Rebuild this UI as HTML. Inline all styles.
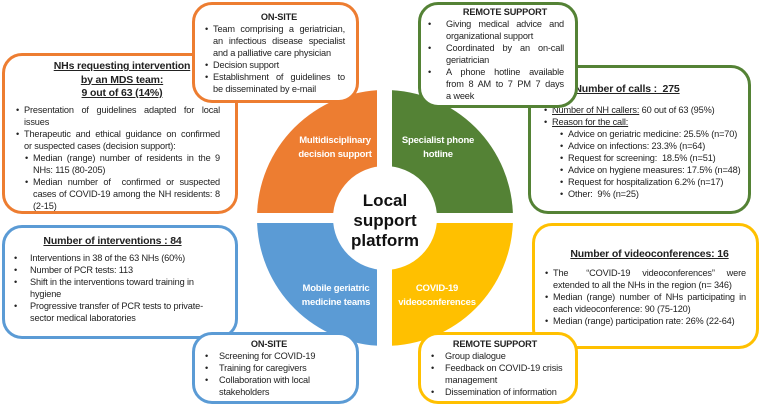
<!DOCTYPE html>
<html><head><meta charset="utf-8">
<style>
body{margin:0;width:761px;height:403px;position:relative;background:#fff;font-family:"Liberation Sans",sans-serif;overflow:hidden;color:#222}
.b{position:absolute;background:#fff;border:3px solid;border-radius:20px;box-sizing:border-box}
.t{position:absolute;font-size:9.2px;line-height:12px;white-space:nowrap;letter-spacing:-0.15px}
.l{position:relative;height:12px}
.j{text-align:justify;text-align-last:justify}
.h{font-weight:bold;text-align:center}
.u{text-decoration:underline}
.bu{position:absolute;left:-8px}
svg{position:absolute;left:0;top:0}
.ql{position:absolute;color:#fff;font-weight:bold;font-size:9.5px;line-height:14px;text-align:center;white-space:nowrap;letter-spacing:-0.2px}
</style></head><body>
<svg width="761" height="403">
<path d="M385,218 L257,218 A128,128 0 0 1 385,90 Z" fill="#ED7D31"/>
<path d="M385,218 L385,90 A128,128 0 0 1 513,218 Z" fill="#548235"/>
<path d="M385,218 L257,218 A128,128 0 0 0 385,346 Z" fill="#5B9BD5"/>
<path d="M385,218 L385,346 A128,128 0 0 0 513,218 Z" fill="#FFC000"/>
<rect x="377" y="80" width="15" height="280" fill="#fff"/>
<rect x="245" y="213" width="280" height="10" fill="#fff"/>
<circle cx="385" cy="218" r="52" fill="#fff"/>
<text x="385" y="206" font-family="Liberation Sans" font-weight="bold" font-size="17" text-anchor="middle" fill="#111">Local</text>
<text x="385" y="226" font-family="Liberation Sans" font-weight="bold" font-size="17" text-anchor="middle" fill="#111">support</text>
<text x="385" y="246" font-family="Liberation Sans" font-weight="bold" font-size="17" text-anchor="middle" fill="#111">platform</text>
</svg>
<div class="ql" style="left:287px;top:134px;width:96px">Multidisciplinary<br>decision support</div>
<div class="ql" style="left:393px;top:134px;width:90px">Specialist phone<br>hotline</div>
<div class="ql" style="left:288px;top:282px;width:96px">Mobile geriatric<br>medicine teams</div>
<div class="ql" style="left:392px;top:282px;width:90px">COVID-19<br>videoconferences</div>

<!-- orange NHs -->
<div class="b" style="left:2px;top:53px;width:236px;height:161px;border-color:#ED7D31"></div>
<div class="t" style="left:24px;top:60px;width:196px">
<div class="h u" style="font-size:10.5px;line-height:13.5px">NHs requesting intervention</div>
<div class="h u" style="font-size:10.5px;line-height:13.5px">by an MDS team:</div>
<div class="h u" style="font-size:10.5px;line-height:13.5px">9 out of 63 (14%)</div>
<div style="height:3px"></div>
<div class="l j"><span class="bu">•</span>Presentation of guidelines adapted for local</div>
<div class="l">issues</div>
<div class="l j"><span class="bu">•</span>Therapeutic and ethical guidance on confirmed</div>
<div class="l">or suspected cases (decision support):</div>
<div style="padding-left:9px">
<div class="l j"><span class="bu">•</span>Median (range) number of residents in the 9</div>
<div class="l">NHs: 115 (80-205)</div>
<div class="l j"><span class="bu">•</span>Median number of &nbsp;confirmed or suspected</div>
<div class="l j">cases of COVID-19 among the NH residents: 8</div>
<div class="l">(2-15)</div></div>
</div>

<!-- orange onsite -->
<div class="b" style="left:192px;top:2px;width:167px;height:101px;border-color:#ED7D31"></div>
<div class="t" style="left:213px;top:11px;width:132px">
<div class="l h">ON-SITE</div>
<div class="l j"><span class="bu">•</span>Team comprising a geriatrician,</div>
<div class="l j">an infectious disease specialist</div>
<div class="l">and a palliative care physician</div>
<div class="l"><span class="bu">•</span>Decision support</div>
<div class="l j"><span class="bu">•</span>Establishment of guidelines to</div>
<div class="l">be disseminated by e-mail</div>
</div>

<!-- green calls -->
<div class="b" style="left:528px;top:65px;width:223px;height:149px;border-color:#548235"></div>
<div class="t" style="left:552px;top:82px;width:195px">
<div class="h u" style="font-size:10.5px;line-height:14px;width:150px">Number of calls :&nbsp; 275</div>
<div style="height:8px"></div>
<div class="l"><span class="bu">•</span><span class="u">Number of NH callers:</span> 60 out of 63 (95%)</div>
<div class="l"><span class="bu">•</span><span class="u">Reason for the call:</span></div>
<div style="padding-left:16px">
<div class="l"><span class="bu">•</span>Advice on geriatric medicine: 25.5% (n=70)</div>
<div class="l"><span class="bu">•</span>Advice on infections: 23.3% (n=64)</div>
<div class="l"><span class="bu">•</span>Request for screening:&nbsp; 18.5% (n=51)</div>
<div class="l"><span class="bu">•</span>Advice on hygiene measures: 17.5% (n=48)</div>
<div class="l"><span class="bu">•</span>Request for hospitalization 6.2% (n=17)</div>
<div class="l"><span class="bu">•</span>Other:&nbsp; 9% (n=25)</div></div>
</div>

<!-- green remote -->
<div class="b" style="left:418px;top:2px;width:160px;height:106px;border-color:#548235"></div>
<div class="t" style="left:446px;top:6px;width:118px">
<div class="l h">REMOTE SUPPORT</div>
<div class="l j"><span class="bu" style="left:-18px">•</span>Giving medical advice and</div>
<div class="l">organizational support</div>
<div class="l j"><span class="bu" style="left:-18px">•</span>Coordinated by an on-call</div>
<div class="l">geriatrician</div>
<div class="l j"><span class="bu" style="left:-18px">•</span>A phone hotline available</div>
<div class="l j">from 8 AM to 7 PM 7 days</div>
<div class="l">a week</div>
</div>

<!-- blue interventions -->
<div class="b" style="left:2px;top:225px;width:236px;height:114px;border-color:#5B9BD5"></div>
<div class="t" style="left:30px;top:234px;width:200px">
<div class="h u" style="font-size:10.5px;line-height:14px;width:165px">Number of interventions : 84</div>
<div style="height:4px"></div>
<div class="l"><span class="bu" style="left:-16px">•</span>Interventions in 38 of the 63 NHs (60%)</div>
<div class="l"><span class="bu" style="left:-16px">•</span>Number of PCR tests: 113</div>
<div class="l"><span class="bu" style="left:-16px">•</span>Shift in the interventions toward training in</div>
<div class="l">hygiene</div>
<div class="l"><span class="bu" style="left:-16px">•</span>Progressive transfer of PCR tests to private-</div>
<div class="l">sector medical laboratories</div>
</div>

<!-- blue onsite -->
<div class="b" style="left:192px;top:332px;width:167px;height:72px;border-color:#5B9BD5"></div>
<div class="t" style="left:219px;top:338px;width:130px">
<div class="l h" style="width:100px">ON-SITE</div>
<div class="l"><span class="bu" style="left:-14px">•</span>Screening for COVID-19</div>
<div class="l"><span class="bu" style="left:-14px">•</span>Training for caregivers</div>
<div class="l"><span class="bu" style="left:-14px">•</span>Collaboration with local</div>
<div class="l">stakeholders</div>
</div>

<!-- yellow videoconf -->
<div class="b" style="left:532px;top:223px;width:227px;height:126px;border-color:#FFC000"></div>
<div class="t" style="left:553px;top:247px;width:193px">
<div class="h u" style="font-size:10.5px;line-height:14px">Number of videoconferences: 16</div>
<div style="height:6px"></div>
<div class="l j"><span class="bu">•</span>The &nbsp;&nbsp;“COVID-19 &nbsp;videoconferences” &nbsp;were</div>
<div class="l">extended to all the NHs in the region (n= 346)</div>
<div class="l j"><span class="bu">•</span>Median (range) number of NHs participating in</div>
<div class="l">each videoconference: 90 (75-120)</div>
<div class="l"><span class="bu">•</span>Median (range) participation rate: 26% (22-64)</div>
</div>

<!-- yellow remote -->
<div class="b" style="left:418px;top:332px;width:160px;height:72px;border-color:#FFC000"></div>
<div class="t" style="left:445px;top:338px;width:130px">
<div class="l h" style="width:100px">REMOTE SUPPORT</div>
<div class="l"><span class="bu" style="left:-14px">•</span>Group dialogue</div>
<div class="l"><span class="bu" style="left:-14px">•</span>Feedback on COVID-19 crisis</div>
<div class="l">management</div>
<div class="l"><span class="bu" style="left:-14px">•</span>Dissemination of information</div>
</div>
</body></html>
